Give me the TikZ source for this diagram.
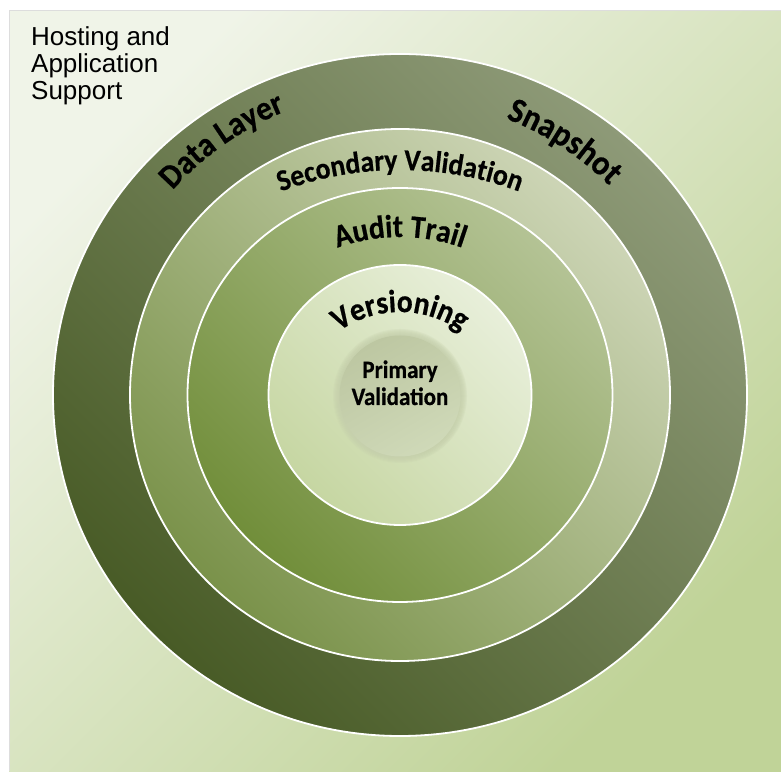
\documentclass[tikz,border=0pt]{standalone}
\usepackage{fontspec}
\setmainfont{Liberation Sans}
\newfontfamily\arcfont[BoldFeatures={FakeBold=0.6,FakeStretch=0.92}]{Carlito}
\usetikzlibrary{decorations.text}
\definecolor{bgA}{HTML}{F0F4E8}
\definecolor{bgB}{HTML}{C0D398}
\definecolor{bgLine}{HTML}{DDDDDD}
\definecolor{r1A}{HTML}{8E9A78}
\definecolor{r1B}{HTML}{485B26}
\definecolor{r2A}{HTML}{CDD5B6}
\definecolor{r2B}{HTML}{7A924A}
\definecolor{r3A}{HTML}{B4C395}
\definecolor{r3B}{HTML}{718E3A}
\definecolor{r4A}{HTML}{E8EFDA}
\definecolor{r4B}{HTML}{C6D6A2}
\definecolor{cA}{HTML}{BDC7A2}
\definecolor{cB}{HTML}{CFD9B8}
\definecolor{cM}{HTML}{C6D0AC}
\tikzset{
  ringline/.style={draw=white, line width=1.8pt},
  arctext/.style={decorate, decoration={text along path, text align=center, text={#1}}},
  hosttext/.style={font=\fontsize{26}{27}\selectfont, align=left, inner sep=0pt, anchor=base west},
  centertext/.style={font=\arcfont\bfseries\fontsize{25}{27}\selectfont, align=center, inner sep=0pt, anchor=base},
}
\begin{document}
\begin{tikzpicture}[x=1pt,y=1pt]
\useasboundingbox (0,0) rectangle (781,771);
% background
\shade[top color=bgA, bottom color=bgB, shading angle=45] (9,0) rectangle (781,760);
\draw[bgLine, line width=1pt] (9,0) -- (9,760) -- (781,760);
\coordinate (C) at (400,376);
% rings
\shade[top color=r1A, bottom color=r1B, shading angle=-45] (C) ellipse [x radius=347, y radius=341];
\draw[ringline] (C) ellipse [x radius=347, y radius=341];
\shade[top color=r2A, bottom color=r2B, shading angle=-45] (C) ellipse [x radius=270, y radius=266];
\draw[ringline] (C) ellipse [x radius=270, y radius=266];
\shade[top color=r3A, bottom color=r3B, shading angle=-45] (C) ellipse [x radius=212.5, y radius=207];
\draw[ringline] (C) ellipse [x radius=212.5, y radius=207];
\shade[top color=r4A, bottom color=r4B, shading angle=-45] (C) ellipse [x radius=131.5, y radius=130];
\draw[ringline] (C) ellipse [x radius=131.5, y radius=130];
% inner soft disc
\coordinate (D) at (400,375);
\foreach \k in {0,...,6} {\fill[cM, opacity=0.22] (D) circle [radius=67-\k];}
\shade[top color=cA, bottom color=cB, shading angle=30] (D) circle [radius=60.5];
% labels along arcs
\path[arctext={|\arcfont\bfseries\fontsize{34}{34}\selectfont|Data Layer}] (C) ++(149:306) arc[start angle=149, end angle=101, radius=306];
\path[arctext={|\arcfont\bfseries\fontsize{35}{35}\selectfont|Snapshot}] (C) ++(81:296) arc[start angle=81, end angle=33, radius=296];
\coordinate (C2) at (400,261);
\path[arctext={|\arcfont\bfseries\fontsize{30}{30}\selectfont|Secondary Validation}] (C2) ++(115:340) arc[start angle=115, end angle=65, radius=340];
\coordinate (C3) at (400,348);
\path[arctext={|\arcfont\bfseries\fontsize{32}{32}\selectfont|Audit Trail}] (C3) ++(125:186) arc[start angle=125, end angle=55, radius=186];
\coordinate (C4) at (400,353);
\path[arctext={|\arcfont\bfseries\fontsize{32}{32}\selectfont|Versioning}] (C4) ++(165:106) arc[start angle=165, end angle=15, radius=106];
% texts
\node[centertext] (primary) at (400,366) {Primary\\Validation};
\node[hosttext] (hosting) at (31,671) {Hosting and\\Application\\Support};
\end{tikzpicture}
\end{document}
